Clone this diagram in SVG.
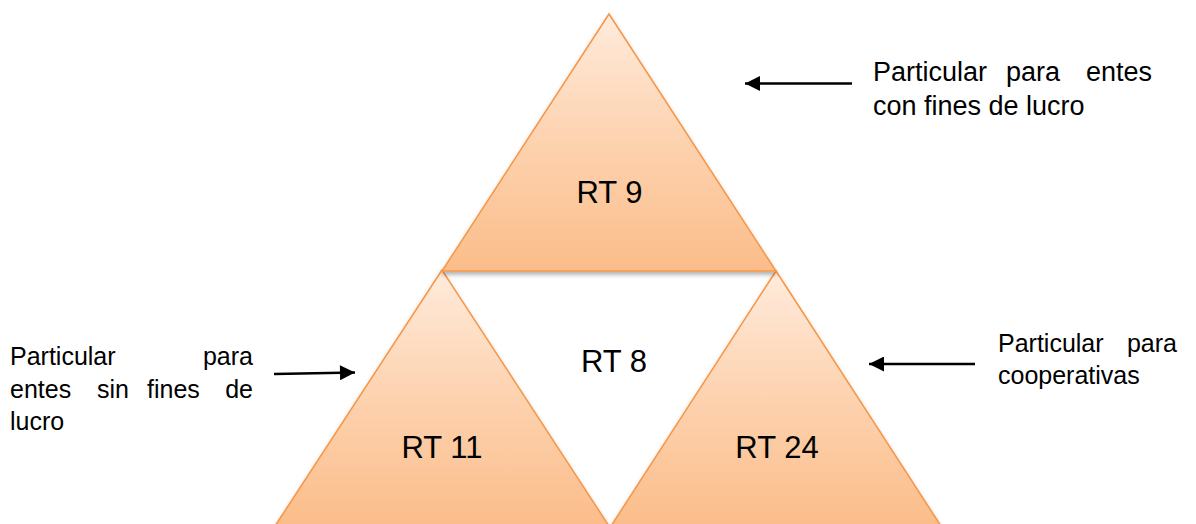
<svg xmlns="http://www.w3.org/2000/svg" width="1196" height="524" viewBox="0 0 1196 524">
<style>
.tri{stroke:#F79646;stroke-width:1.5;fill:url(#g);filter:url(#sh)}
.big{font-family:"Liberation Sans",Arial,sans-serif;font-size:31px;fill:#000;text-anchor:middle}
.lbl{font-family:"Liberation Sans",Arial,sans-serif;font-size:25px;fill:#000}
.top{font-size:27px}
.end{text-anchor:end}
.arr{stroke:#000;stroke-width:2.5;fill:none;marker-end:url(#ah)}
</style>
<defs>
<linearGradient id="g" x1="0" y1="0" x2="0" y2="1">
<stop offset="0" stop-color="#FFEBDC"/>
<stop offset="0.5" stop-color="#FDD2AF"/>
<stop offset="1" stop-color="#FBBD8A"/>
</linearGradient>
<filter id="sh" x="-10%" y="-10%" width="120%" height="125%">
<feDropShadow dx="0" dy="3" stdDeviation="2" flood-color="#000" flood-opacity="0.3"/>
</filter>
<marker id="ah" viewBox="0 0 10 10" refX="10" refY="5" markerWidth="6.5" markerHeight="6" orient="auto" markerUnits="strokeWidth">
<path d="M0,0 L10,5 L0,10 Z" fill="#000"/>
</marker>
</defs>
<g id="rt11">
<polygon class="tri" points="442,270 275,526 609,526"/>
<text class="big" x="442" y="458">RT 11</text>
</g>
<g id="rt24">
<polygon class="tri" points="776,271 611,526 941,526"/>
<text class="big" x="777" y="458">RT 24</text>
</g>
<g id="rt9">
<polygon class="tri" points="609,14 442,271 776,271"/>
<text class="big" x="609.5" y="203">RT 9</text>
</g>
<g id="rt8">
<text class="big" x="614" y="372">RT 8</text>
</g>
<g id="label-top">
<text class="lbl top" x="873" y="81">Particular</text>
<text class="lbl top" x="1006" y="81">para</text>
<text class="lbl top end" x="1152" y="81">entes</text>
<text class="lbl top" x="873" y="115">con fines de lucro</text>
</g>
<g id="label-left">
<text class="lbl" x="10" y="365">Particular</text>
<text class="lbl end" x="253" y="365">para</text>
<text class="lbl" x="10" y="398">entes</text>
<text class="lbl" x="97" y="398">sin</text>
<text class="lbl" x="147" y="398">fines</text>
<text class="lbl end" x="253" y="398">de</text>
<text class="lbl" x="10" y="430">lucro</text>
</g>
<g id="label-right">
<text class="lbl" x="998" y="352">Particular</text>
<text class="lbl end" x="1177" y="352">para</text>
<text class="lbl" x="998" y="384">cooperativas</text>
</g>
<g id="connectors">
<line class="arr" x1="852" y1="83.5" x2="745" y2="83.5"/>
<line class="arr" x1="274" y1="374" x2="355" y2="372.5"/>
<line class="arr" x1="975" y1="364" x2="869" y2="364"/>
</g>
</svg>
